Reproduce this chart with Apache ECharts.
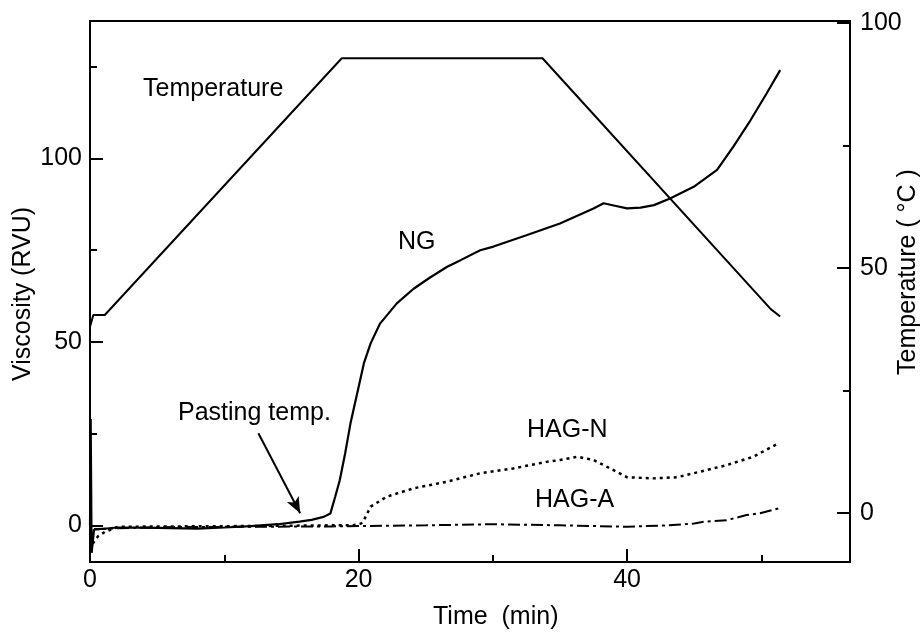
<!DOCTYPE html>
<html>
<head>
<meta charset="utf-8">
<script src="https://cdn.jsdelivr.net/npm/echarts@6/dist/echarts.min.js"></script>
<style>
  html, body { margin: 0; padding: 0; background: #fff; }
  #chart { width: 923px; height: 632px; }
</style>
</head>
<body>
<div id="chart"></div>
<script>
// time (min) / value pairs
const temperature = [
  [0, 38], [0.25, 40.4], [1.1, 40.4], [18.75, 92.8], [33.7, 92.8],
  [50.7, 41.6], [51.4, 40.1]
]
const ng = [
  [0, 0], [0.05, 29], [0.12, -7.5], [0.3, -1.2], [2, -0.6], [5, -0.7], [8, -0.9],
  [10, -0.6], [12, -0.2], [14, 0.3], [15.6, 1], [16.5, 1.5], [17.4, 2.3],
  [17.9, 3.2], [18.26, 7.8], [18.6, 12.3], [19.0, 19.6], [19.4, 27.8], [19.9, 36.0],
  [20.4, 44.2], [20.9, 49.6], [21.6, 55], [22.85, 60.5], [24.1, 64.5], [25.3, 67.5],
  [26.6, 70.5], [27.6, 72.3], [29.06, 75], [30.05, 76], [32.5, 79.1], [35, 82.3],
  [37.5, 86.4], [38.25, 87.8], [39, 87.2], [40, 86.4], [41, 86.6], [42, 87.3],
  [43.2, 89.1], [44.96, 92.3], [46.7, 96.9], [47.9, 103.2], [49.2, 110.5],
  [50.4, 117.8], [51.4, 124.1]
]
const hagN = [
  [0.2, -5], [0.6, -3], [1.1, -1.8], [2.1, -0.4], [6, -0.3], [12, -0.2], [18, 0],
  [19.6, 0], [20.2, 0.5], [20.4, 1.4], [20.9, 5.1], [22.1, 7.8], [24.1, 10.1],
  [26.6, 11.9], [29.06, 14.2], [31.5, 15.5], [34, 17.3], [35, 17.8], [36.3, 18.7],
  [37.5, 17.8], [38.75, 15.5], [40, 13.1], [42, 12.8], [43.7, 13.1], [44.96, 14.2],
  [47.4, 16.4], [49.4, 18.7], [51.3, 22.4]
]
const hagA = [
  [0.3, -1], [5, -0.5], [18, -0.3], [25, 0], [30, 0.3], [35, 0], [40, -0.4],
  [43, 0], [45, 0.5], [45.7, 1], [47.4, 1.4], [48.9, 2.8], [49.9, 3.3], [51.3, 4.6]
]

const xMajorTicks = [0, 20, 40]
const xMinorTicks = [10, 30, 50]
const viscMajorTicks = [0, 50, 100]
const viscMinorTicks = [25, 75, 125]
const tempMajorTicks = [0, 50, 100]
const tempMinorTicks = [25, 75]

const font = 'Liberation Sans, Arial, sans-serif'
const black = '#000'

const majorAxis = (extra) => Object.assign({
  type: 'value',
  splitLine: { show: false },
  axisLine: { onZero: false, lineStyle: { color: black, width: 2 } },
}, extra)

// extra axis that only draws the short in-between ticks
const minorAxis = (extra, ticks) => Object.assign({
  type: 'value',
  splitLine: { show: false },
  axisLine: { show: false, onZero: false },
  axisLabel: { show: false },
  axisTick: { inside: true, length: 7, customValues: ticks, lineStyle: { color: black, width: 2 } },
}, extra)

const label = (text, x, y, rotation) => ({
  type: 'text', x: x, y: y, rotation: rotation || 0,
  style: {
    text: text, font: '25px ' + font, fill: black,
    align: rotation ? 'center' : 'left', verticalAlign: 'middle',
  },
})

const chart = echarts.init(document.getElementById('chart'))

chart.setOption({
  backgroundColor: '#fff',
  animation: false,
  grid: {
    left: 90, right: 73, top: 21, bottom: 70,
    show: true, borderColor: black, borderWidth: 2,
  },
  xAxis: [
    majorAxis({
      min: 0, max: 56.6, position: 'bottom',
      axisTick: { inside: true, length: 13, customValues: xMajorTicks, lineStyle: { color: black, width: 2 } },
      axisLabel: { customValues: xMajorTicks, color: black, fontSize: 25, fontFamily: font, margin: 6 },
    }),
    minorAxis({ min: 0, max: 56.6, position: 'bottom' }, xMinorTicks),
  ],
  yAxis: [
    majorAxis({
      min: -10, max: 137.5, position: 'left',
      axisTick: { inside: true, length: 13, customValues: viscMajorTicks, lineStyle: { color: black, width: 2 } },
      axisLabel: { customValues: viscMajorTicks, color: black, fontSize: 25, fontFamily: font, margin: 8 },
    }),
    majorAxis({
      min: -10, max: 100.4, position: 'right',
      axisTick: { inside: true, length: 13, customValues: tempMajorTicks, lineStyle: { color: black, width: 2 } },
      axisLabel: { customValues: tempMajorTicks, color: black, fontSize: 25, fontFamily: font, margin: 10 },
    }),
    minorAxis({ min: -10, max: 137.5, position: 'left' }, viscMinorTicks),
    minorAxis({ min: -10, max: 100.4, position: 'right' }, tempMinorTicks),
  ],
  series: [
    {
      name: 'Temperature', type: 'line', yAxisIndex: 1, data: temperature,
      symbol: 'none', lineStyle: { color: black, width: 2 },
    },
    {
      name: 'NG', type: 'line', yAxisIndex: 0, data: ng,
      symbol: 'none', lineStyle: { color: black, width: 2.2 },
      markLine: {
        silent: true, symbol: ['none', 'arrow'], symbolSize: [10, 16],
        lineStyle: { color: black, width: 2, type: 'solid' },
        label: { show: false },
        data: [[{ coord: [12.54, 25.1] }, { coord: [15.65, 3.3] }]],
      },
    },
    {
      name: 'HAG-N', type: 'line', yAxisIndex: 0, data: hagN,
      symbol: 'none', lineStyle: { color: black, width: 2.5, type: [3, 4] },
    },
    {
      name: 'HAG-A', type: 'line', yAxisIndex: 0, data: hagA,
      symbol: 'none', lineStyle: { color: black, width: 2, type: [12, 4, 3, 4] },
    },
  ],
  graphic: [
    label('Temperature', 143, 89),
    label('NG', 398, 242),
    label('HAG-N', 527, 430),
    label('HAG-A', 535, 500),
    label('Pasting temp.', 178, 413),
    label('Time  (min)', 433, 617),
    label('Viscosity (RVU)', 23, 294, Math.PI / 2),
    label('Temperature ( °C )', 908, 272, Math.PI / 2),
  ],
})

window.addEventListener('resize', () => chart.resize())
</script>
</body>
</html>
